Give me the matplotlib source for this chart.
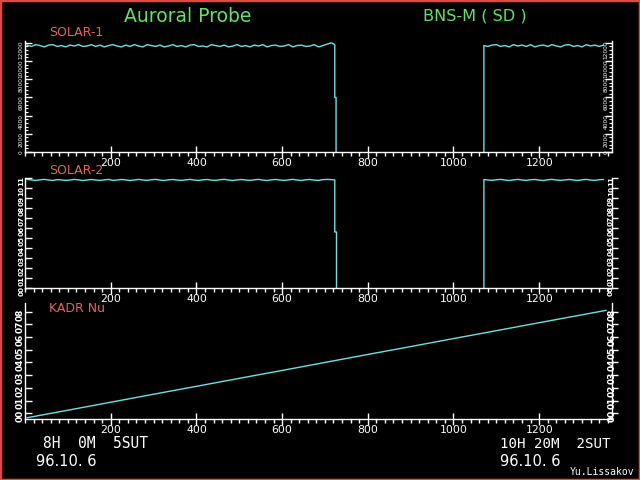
import numpy as np
import matplotlib
matplotlib.use("Agg")
import matplotlib.pyplot as plt
from matplotlib.ticker import MultipleLocator, FixedLocator, FuncFormatter
from matplotlib.patches import Rectangle

# ---------------- data ----------------
x_major = [200, 400, 600, 800, 1000, 1200]

# SOLAR-1, first segment (x = 5, 15, ... step 10)
s1_a = [11750, 11600, 11800, 11700, 11550, 11750, 11800, 11600, 11700,
        11550, 11750, 11650, 11800, 11600, 11650, 11800, 11600, 11750,
        11550, 11700, 11800, 11650, 11550, 11750, 11600, 11800, 11650,
        11550, 11800, 11700, 11600, 11750, 11550, 11650, 11800, 11600,
        11700, 11550, 11750, 11800, 11600, 11650, 11550, 11800, 11700,
        11600, 11750, 11550, 11650, 11800, 11600, 11700, 11550, 11750,
        11650, 11800, 11550, 11700, 11750, 11600, 11650, 11800, 11550,
        11700, 11750, 11600, 11650, 11800, 11550, 11700, 11850, 12000]
s1_drop_x = [723, 723, 726, 726]
s1_drop_v = [11800, 6000, 6000, 0]
s1_rise_x = [1071, 1071]
s1_rise_v = [0, 11700]
# SOLAR-1, second segment (x = 1080 ... step 10)
s1_b = [11600, 11750, 11800, 11600, 11700, 11550, 11800, 11650, 11750, 11600,
        11800, 11550, 11700, 11750, 11600, 11800, 11650, 11550, 11750, 11800,
        11600, 11700, 11550, 11800, 11650, 11750, 11600, 11750]

# SOLAR-2
s2_a = [108.5, 108.0, 107.6, 108.2, 108.6, 108.0, 107.5, 108.4, 108.1,
        107.6, 108.0, 108.6, 108.1, 107.5, 108.0, 108.5, 108.0, 107.6,
        108.1, 108.6, 107.6, 108.0, 108.5, 108.1, 107.5, 108.0, 108.6,
        108.0, 107.6, 108.3, 108.6, 107.9, 107.5, 108.2, 108.5, 108.0,
        107.6, 108.1, 108.6, 108.0, 107.5, 108.2, 108.5, 107.9, 107.6,
        108.3, 108.6, 108.0, 107.5, 108.1, 108.5, 108.0, 107.6, 108.2,
        108.6, 107.9, 107.5, 108.2, 108.5, 108.0, 107.6, 108.1, 108.6,
        108.0, 107.5, 108.2, 108.5, 107.9, 107.6, 108.3, 108.6, 108.4]
s2_drop_x = [723, 723, 727, 727]
s2_drop_v = [108.0, 56.0, 56.0, 0.0]
s2_rise_x = [1071, 1071]
s2_rise_v = [0.0, 108.5]
s2_b = [108.0, 107.6, 108.2, 108.6, 108.0, 107.5, 108.1, 108.6, 108.0, 107.6,
        108.3, 108.5, 107.9, 107.5, 108.2, 108.6, 108.0, 107.6, 108.1, 108.5,
        108.0, 107.5, 108.2, 108.6, 107.9, 107.6, 108.3, 108.5]

# KADR Nu
k_x = [5, 100, 200, 300, 400, 500, 600, 700, 800, 900, 1000, 1100, 1200, 1300, 1356]
k_v = [-0.35, 0.24, 0.87, 1.50, 2.12, 2.75, 3.37, 4.00, 4.63, 5.25, 5.88, 6.50,
       7.13, 7.75, 8.10]

# ---------------- styling ----------------
BG = "black"
CYAN = "#72DEDE"
RED = "#E46464"
GREEN = "#66E066"
WHITE = "white"

fig = plt.figure(figsize=(6.4, 4.8), dpi=100, facecolor=BG)
W, H = 640.0, 480.0
LEFT, RIGHT = 25.0, 612.0


def make_ax(top_px, bot_px):
    ax = fig.add_axes([LEFT / W, 1 - bot_px / H, (RIGHT - LEFT) / W, (bot_px - top_px) / H])
    ax.set_facecolor(BG)
    ax.set_xlim(0, 1370)
    for s in ("left", "right", "bottom"):
        ax.spines[s].set_color(WHITE)
        ax.spines[s].set_linewidth(1)
    ax.spines["top"].set_visible(False)
    ax.xaxis.set_major_locator(FixedLocator(x_major))
    ax.xaxis.set_minor_locator(MultipleLocator(20))
    ax.tick_params(axis="x", which="major", direction="inout", length=9, width=1,
                   colors=WHITE, labelsize=7.8, pad=-0.5)
    ax.tick_params(axis="x", which="minor", direction="out", length=3, width=1, colors=WHITE)
    return ax


def y_axes(ax, ylim, major, minor, fmt, size, weight, lpad, rpad, rdir, rlen):
    ax.set_ylim(*ylim)
    ax.yaxis.set_major_locator(MultipleLocator(major))
    if minor:
        ax.yaxis.set_minor_locator(MultipleLocator(minor))
        ax.tick_params(axis="y", which="minor", direction="in", length=2.5, width=0.8,
                       colors=WHITE, left=True, right=False)
    ax.yaxis.set_major_formatter(FuncFormatter(fmt))
    ax.tick_params(axis="y", which="major", direction="in", length=5, width=1, colors=WHITE,
                   left=True, right=False, labelleft=True, labelright=False,
                   labelsize=size, labelrotation=90, pad=lpad)
    for lab in ax.get_yticklabels():
        lab.set_fontweight(weight)
    axr = ax.twinx()
    axr.set_ylim(*ylim)
    for s in axr.spines.values():
        s.set_visible(False)
    axr.yaxis.set_major_locator(MultipleLocator(major))
    if minor:
        axr.yaxis.set_minor_locator(MultipleLocator(minor))
        axr.tick_params(axis="y", which="minor", direction=rdir, length=2.5, width=0.8,
                        colors=WHITE, right=True)
    axr.yaxis.set_major_formatter(FuncFormatter(fmt))
    axr.tick_params(axis="y", which="major", direction=rdir, length=rlen, width=1,
                    colors=WHITE, right=True, labelright=True, labelsize=size,
                    labelrotation=90, pad=rpad)
    for lab in axr.get_yticklabels():
        lab.set_fontweight(weight)
    return axr


# Panel 1
ax1 = make_ax(41, 152)
y_axes(ax1, (0, 12200), 2000, 400, lambda v, p: "%d" % v, 4.2, "normal", 1.0, -6.0, "in", 5)
xa = list(5 + 10 * np.arange(len(s1_a)))
xb = list(1080 + 10 * np.arange(len(s1_b)))
x1 = xa + s1_drop_x + [np.nan] + s1_rise_x + xb
v1 = s1_a + s1_drop_v + [np.nan] + s1_rise_v + s1_b
ax1.plot(x1, v1, color=CYAN, lw=1, zorder=1)

# Panel 2
ax2 = make_ax(178, 288)
y_axes(ax2, (0, 110), 10, None, lambda v, p: "%02d" % round(v / 10), 5.2, "bold",
       0.5, -7.0, "out", 4)
x2 = xa + s2_drop_x + [np.nan] + s2_rise_x + xb
v2 = s2_a + s2_drop_v + [np.nan] + s2_rise_v + s2_b
ax2.plot(x2, v2, color=CYAN, lw=1, zorder=1)

# Panel 3
ax3 = make_ax(303, 419)
y_axes(ax3, (-0.45, 8.68), 1, None, lambda v, p: "%02d" % v, 6.5, "bold", 0.5, -7.5, "out", 4)
ax3.plot(k_x, k_v, color=CYAN, lw=1, zorder=1)

# Panel labels
for ypx, name in ((33, "SOLAR-1"), (171, "SOLAR-2"), (308, "KADR Nu")):
    fig.text(49 / W, 1 - ypx / H, name, color=RED, fontsize=9.0, va="center", ha="left")

# Titles
fig.text(124 / W, 1 - 16 / H, "Auroral Probe", color=GREEN, fontsize=13.5,
         va="center", ha="left")
fig.text(423 / W, 1 - 16 / H, "BNS-M ( SD )", color=GREEN, fontsize=11.6,
         va="center", ha="left")

# Time stamps
mono = "DejaVu Sans Mono"
fig.text(43 / W, 1 - 444 / H, "8H  0M  5SUT", color=WHITE, fontsize=10.5, family=mono,
         va="center", ha="left")
fig.text(36 / W, 1 - 461 / H, "96.10. 6", color=WHITE, fontsize=10.5,
         va="center", ha="left")
fig.text(500 / W, 1 - 444 / H, "10H 20M  2SUT", color=WHITE, fontsize=10.2, family=mono,
         va="center", ha="left")
fig.text(500 / W, 1 - 461 / H, "96.10. 6", color=WHITE, fontsize=10.5,
         va="center", ha="left")
fig.text(570 / W, 1 - 472 / H, "Yu.Lissakov", color=WHITE, fontsize=7, family=mono,
         va="center", ha="left")

# Red frame
fig.patches.append(Rectangle((0, 0), 1, 1, transform=fig.transFigure, fill=False,
                             edgecolor="#E04848", lw=2.5))

fig.savefig("out.png", dpi=100, facecolor=BG)
